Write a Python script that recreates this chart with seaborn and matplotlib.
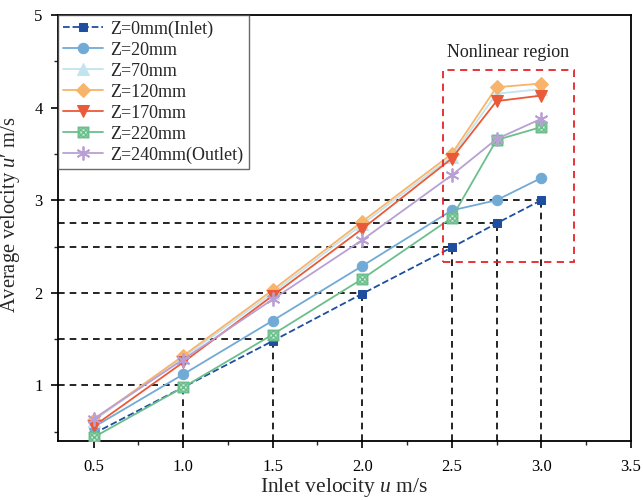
import numpy as np
import pandas as pd
import matplotlib
matplotlib.use("Agg")
import matplotlib.pyplot as plt
from matplotlib.path import Path
from matplotlib.patches import Rectangle
from matplotlib.ticker import MultipleLocator
import seaborn as sns

sns.set_theme(style="ticks")
plt.rcParams['font.family'] = ['Liberation Serif', 'DejaVu Serif']
plt.rcParams['mathtext.fontset'] = 'custom'
plt.rcParams['mathtext.rm'] = 'Liberation Serif'
plt.rcParams['mathtext.it'] = 'Liberation Serif:italic'

inlet_u = [0.5, 1.0, 1.5, 2.0, 2.5, 2.75, 3.0]
z0 = [0.48, 0.98, 1.48, 1.99, 2.49, 2.75, 3.00]
z20 = [0.55, 1.12, 1.70, 2.29, 2.89, 3.00, 3.24]
z70 = [0.62, 1.30, 2.00, 2.74, 3.47, 4.15, 4.20]
z120 = [0.63, 1.32, 2.03, 2.77, 3.50, 4.22, 4.26]
z170 = [0.56, 1.25, 1.97, 2.69, 3.45, 4.07, 4.13]
z220 = [0.44, 0.98, 1.55, 2.15, 2.81, 3.65, 3.79]
z240 = [0.64, 1.28, 1.93, 2.57, 3.27, 3.66, 3.88]

labels = ["Z=0mm(Inlet)", "Z=20mm", "Z=70mm", "Z=120mm", "Z=170mm", "Z=220mm", "Z=240mm(Outlet)"]
series = [z0, z20, z70, z120, z170, z220, z240]
colors = ["#1f4ea0", "#72aad6", "#c3e4ee", "#f7b46a", "#ea5a38", "#6cbf8c", "#b9a0d4"]

# crossed-box marker
sq = Path([(-1, -1), (1, -1), (1, 1), (-1, 1), (-1, -1)],
          [Path.MOVETO, Path.LINETO, Path.LINETO, Path.LINETO, Path.CLOSEPOLY])
x1 = Path([(-1, -1), (1, 1)], [Path.MOVETO, Path.LINETO])
x2 = Path([(-1, 1), (1, -1)], [Path.MOVETO, Path.LINETO])
circ = Path.circle((0, 0), 0.75)
boxx = Path.make_compound_path(sq, x1, x2, circ)

markers = ["s", "o", "^", "D", "v", boxx, (6, 2, 0)]
styles = ["--", "-", "-", "-", "-", "-", "-"]
msizes = [6, 7.5, 8, 7, 8, 7.5, 10]

fig = plt.figure(figsize=(6.43, 5.0), dpi=100)
ax = fig.add_axes([0.090, 0.118, 0.891, 0.852])

# reference dashed lines
xmin, ymin = 0.3, 0.4
ref_y = [1.0, 1.5, 2.0, 2.5, 2.75, 3.0]
ref_x = [1.0, 1.5, 2.0, 2.5, 2.75, 3.0]
ax.hlines(ref_y, xmin, ref_x, colors="black", linestyles=(0, (4, 3)), linewidth=1.2, zorder=1)
ax.vlines(ref_x, ymin, ref_y, colors="black", linestyles=(0, (4, 3)), linewidth=1.2, zorder=1)

for lab, ys, c, m, ls, ms in zip(labels, series, colors, markers, styles, msizes):
    df = pd.DataFrame({"u": inlet_u, "v": ys})
    kw = dict(marker=m, markersize=ms, color=c, linestyle=ls, linewidth=1.3)
    if m is boxx:
        kw.update(markerfacecolor="#d6efe0", markeredgecolor=c, markeredgewidth=1.1)
    elif m == (6, 2, 0):
        kw.update(markeredgecolor=c, markeredgewidth=1.3)
    else:
        kw.update(markeredgecolor=c, markerfacecolor=c)
    if ls == "--":
        kw.update(dashes=(5, 4))
    sns.lineplot(data=df, x="u", y="v", ax=ax, label=lab, zorder=3, **kw)

# nonlinear region box
ax.add_patch(Rectangle((2.45, 2.33), 0.735, 2.08, fill=False, edgecolor="#e8222a",
                       linestyle=(0, (4, 3)), linewidth=1.3, zorder=4))
ax.text(2.815, 4.6, "Nonlinear region", ha="center", va="center", fontsize=13, color="#222222")

ax.set_xlim(0.3, 3.5)
ax.set_ylim(0.4, 5.0)
ax.xaxis.set_minor_locator(MultipleLocator(0.25))
ax.yaxis.set_minor_locator(MultipleLocator(0.5))
ax.set_xticks([0.5, 1.0, 1.5, 2.0, 2.5, 3.0, 3.5])
ax.set_xticklabels(["0.5", "1.0", "1.5", "2.0", "2.5", "3.0", "3.5"])
ax.set_yticks([1, 2, 3, 4, 5])
ax.tick_params(axis="both", which="major", direction="out", length=5, width=1.2,
               labelsize=12, colors="black")
ax.tick_params(axis="x", which="major", pad=8)
ax.tick_params(axis="y", which="major", pad=6)
ax.tick_params(axis="both", which="minor", direction="out", length=3, width=1.0)
for s in ax.spines.values():
    s.set_visible(True)
    s.set_linewidth(1.3)
    s.set_color("black")

ax.set_xlabel("Inlet velocity $u$ m/s", fontsize=15.5, labelpad=1)
ax.set_ylabel("Average velocity $u$\u2032 m/s", fontsize=14.8)
ax.yaxis.set_label_coords(-0.063, 0.53)

leg = ax.legend(loc="upper left", fontsize=13, frameon=True, fancybox=False,
                borderaxespad=0, handlelength=2.2, labelspacing=0.22,
                borderpad=0.3, handletextpad=0.4)
leg.get_frame().set_edgecolor("#444444")
leg.get_frame().set_linewidth(1.0)

fig.savefig("out.png", dpi=100)
